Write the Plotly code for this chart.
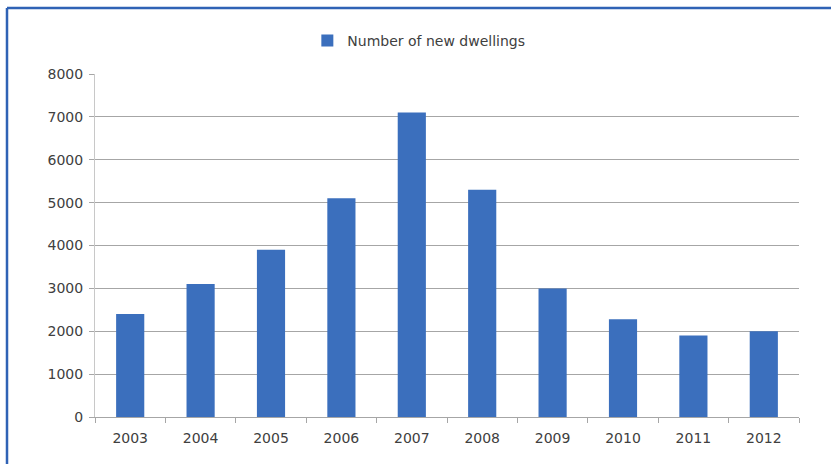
import plotly.graph_objects as go

years = ["2003", "2004", "2005", "2006", "2007", "2008", "2009", "2010", "2011", "2012"]
dwellings = [2400, 3100, 3900, 5100, 7100, 5300, 3000, 2280, 1900, 2000]
y_ticks = [0, 1000, 2000, 3000, 4000, 5000, 6000, 7000, 8000]
series_name = "Number of new dwellings"

W, H = 831, 464
ml, mr, mt, mb = 95, 32, 74, 47
pw = W - ml - mr
ph = H - mt - mb

def px_x(x):
    return (x - ml) / pw

def px_y(y):
    return (H - mb - y) / ph

FONT = "DejaVu Sans, Liberation Sans, sans-serif"
TXT = "#404040"

fig = go.Figure()
fig.add_trace(go.Bar(
    x=years, y=dwellings, name=series_name,
    marker=dict(color="#3b6fbd", line=dict(width=0)),
    showlegend=True,
))

fig.update_layout(
    width=W, height=H,
    margin=dict(l=ml, r=mr, t=mt, b=mb),
    paper_bgcolor="white", plot_bgcolor="white",
    font=dict(family=FONT, size=14, color=TXT),
    bargap=0.6,
    showlegend=True,
    legend=dict(orientation="h", x=0.46, xanchor="center", y=px_y(41), yanchor="middle",
                font=dict(family=FONT, size=14, color=TXT), itemwidth=30,
                bgcolor="rgba(0,0,0,0)"),
    xaxis=dict(showgrid=False, showline=True, linecolor="#a6a6a6", linewidth=1,
               ticks="outside", ticklen=5, tickcolor="#a6a6a6", tickson="boundaries",
               ticklabelstandoff=8,
               tickfont=dict(family=FONT, size=14, color=TXT)),
    yaxis=dict(range=[0, 8000], tickvals=y_ticks, showgrid=True, gridcolor="#a6a6a6",
               gridwidth=1, showline=True, linecolor="#c8c8c8", linewidth=1,
               ticks="outside", ticklen=5, tickcolor="#a6a6a6", zeroline=False,
               ticklabelstandoff=3,
               tickfont=dict(family=FONT, size=14, color=TXT)),
    shapes=[
        dict(type="line", xref="paper", yref="paper", x0=px_x(7), x1=px_x(831),
             y0=px_y(8), y1=px_y(8), line=dict(color="#2f62b5", width=2.5)),
        dict(type="line", xref="paper", yref="paper", x0=px_x(7), x1=px_x(7),
             y0=px_y(8), y1=px_y(464), line=dict(color="#2f62b5", width=2.5)),
    ],
)

fig.write_html("out.html", config={"displayModeBar": False},
               post_script="document.body.style.margin='0px';")
